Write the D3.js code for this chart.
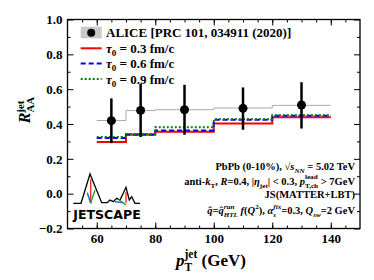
<!DOCTYPE html>
<html>
<head>
<meta charset="utf-8">
<script src="https://cdn.jsdelivr.net/npm/d3@7"></script>
<style>
  body { margin: 0; background: #fff; }
  svg text { font-family: "Liberation Serif", serif; font-weight: bold; }
</style>
</head>
<body>
<svg id="chart" width="374" height="280"></svg>
<script>
// bins of the model histograms (GeV)
var binEdges = [60, 70, 80, 100, 120, 140];
var grayStep = [0.42, 0.477, 0.482, 0.492, 0.507];
var tau03 = [0.296, 0.338, 0.355, 0.403, 0.439];
var tau06 = [0.319, 0.340, 0.363, 0.424, 0.447];
var tau09 = [0.325, 0.342, 0.382, 0.427, 0.450];

// ALICE points
var aliceX = [65, 75, 90, 110, 130];
var aliceY = [0.419, 0.478, 0.482, 0.49, 0.509];
var aliceLo = [0.29, 0.325, 0.338, 0.367, 0.374];
var aliceHi = [0.547, 0.63, 0.625, 0.61, 0.64];

var xTicks = [60, 80, 100, 120, 140];
var yTicks = [-0.2, 0, 0.2, 0.4, 0.6, 0.8, 1.0];

var legendLabels = ["ALICE [PRC 101, 034911 (2020)]", "0.3", "0.6", "0.9"];

var svg = d3.select("#chart");
var L = 67.5, R = 360, T = 19.5, B = 228.5;

var x = d3.scaleLinear().domain([50, 150]).range([L, R]);
var y = d3.scaleLinear().domain([-0.2, 1.0]).range([B, T]);

// axes (ticks inside)
function styleAxis(g) {
    g.attr("font-family", "Liberation Serif");
    g.selectAll(".domain").remove();
    g.selectAll("line").attr("stroke", "#000").attr("stroke-width", 1);
    g.selectAll("text").attr("font-size", 13).attr("fill", "#000");
}

svg.append("g").attr("transform", "translate(0," + B + ")")
    .call(d3.axisBottom(x).tickValues(d3.range(55, 150, 5)).tickSizeInner(-3).tickSizeOuter(0).tickFormat(""))
    .call(styleAxis);
svg.append("g").attr("transform", "translate(0," + B + ")")
    .call(d3.axisBottom(x).tickValues(xTicks).tickSizeInner(-6).tickSizeOuter(0).tickPadding(5).tickFormat(d3.format("d")))
    .call(styleAxis);
svg.append("g").attr("transform", "translate(0," + T + ")")
    .call(d3.axisTop(x).tickValues(d3.range(55, 150, 5)).tickSizeInner(-3).tickSizeOuter(0).tickFormat(""))
    .call(styleAxis);
svg.append("g").attr("transform", "translate(0," + T + ")")
    .call(d3.axisTop(x).tickValues(xTicks).tickSizeInner(-6).tickSizeOuter(0).tickFormat(""))
    .call(styleAxis);

svg.append("g").attr("transform", "translate(" + L + ",0)")
    .call(d3.axisLeft(y).tickValues(d3.range(-0.1, 1.0, 0.2)).tickSizeInner(-3).tickSizeOuter(0).tickFormat(""))
    .call(styleAxis);
svg.append("g").attr("transform", "translate(" + L + ",0)")
    .call(d3.axisLeft(y).tickValues(yTicks).tickSizeInner(-6).tickSizeOuter(0).tickPadding(5).tickFormat(d3.format(".1f")))
    .call(styleAxis);
svg.append("g").attr("transform", "translate(" + R + ",0)")
    .call(d3.axisRight(y).tickValues(d3.range(-0.1, 1.0, 0.2)).tickSizeInner(-3).tickSizeOuter(0).tickFormat(""))
    .call(styleAxis);
svg.append("g").attr("transform", "translate(" + R + ",0)")
    .call(d3.axisRight(y).tickValues(yTicks).tickSizeInner(-6).tickSizeOuter(0).tickFormat(""))
    .call(styleAxis);

svg.append("rect").attr("x", L).attr("y", T).attr("width", R - L).attr("height", B - T)
    .attr("fill", "none").attr("stroke", "#000").attr("stroke-width", 1.3);

// step histograms
var stepLine = d3.line().x(function (d) { return x(d[0]); }).y(function (d) { return y(d[1]); });
function stepPoints(vals) {
    var pts = [];
    vals.forEach(function (v, i) { pts.push([binEdges[i], v]); pts.push([binEdges[i + 1], v]); });
    return pts;
}

var series = [
    { vals: grayStep, color: "#aaaaaa", width: 1, dash: null },
    { vals: tau03, color: "#ff0000", width: 2, dash: null },
    { vals: tau06, color: "#0000ff", width: 2, dash: "5,3" },
    { vals: tau09, color: "#008000", width: 2, dash: "2,2" }
];
series.forEach(function (s) {
    svg.append("path").datum(stepPoints(s.vals))
        .attr("d", stepLine)
        .attr("fill", "none")
        .attr("stroke", s.color)
        .attr("stroke-width", s.width)
        .attr("stroke-dasharray", s.dash);
});

// ALICE data points
var pts = aliceX.map(function (d, i) { return { x: d, y: aliceY[i], lo: aliceLo[i], hi: aliceHi[i] }; });
svg.selectAll("line.err").data(pts).enter().append("line")
    .attr("class", "err")
    .attr("x1", function (d) { return x(d.x); }).attr("x2", function (d) { return x(d.x); })
    .attr("y1", function (d) { return y(d.lo); }).attr("y2", function (d) { return y(d.hi); })
    .attr("stroke", "#000").attr("stroke-width", 2.5);
svg.selectAll("circle.pt").data(pts).enter().append("circle")
    .attr("class", "pt")
    .attr("cx", function (d) { return x(d.x); }).attr("cy", function (d) { return y(d.y); })
    .attr("r", 4.5).attr("fill", "#000");

// legend
var legX0 = 80.7, legX1 = 101.7, legTx = 106;
var legY = [32.7, 48.3, 63.6, 79];
svg.append("rect").attr("x", legX0).attr("y", 26.7).attr("width", legX1 - legX0).attr("height", 11.6)
    .attr("fill", "#c8c8c8");
svg.append("circle").attr("cx", (legX0 + legX1) / 2).attr("cy", legY[0]).attr("r", 4).attr("fill", "#000");
svg.append("text").attr("x", legTx).attr("y", legY[0] + 4.5).attr("font-size", 13).text(legendLabels[0]);
series.slice(1).forEach(function (s, i) {
    svg.append("line").attr("x1", legX0).attr("x2", legX1)
        .attr("y1", legY[i + 1]).attr("y2", legY[i + 1])
        .attr("stroke", s.color).attr("stroke-width", 2).attr("stroke-dasharray", s.dash);
    var t = svg.append("text").attr("x", legTx).attr("y", legY[i + 1] + 4.5).attr("font-size", 13);
    t.append("tspan").attr("font-style", "italic").text("τ");
    t.append("tspan").attr("font-size", 9).attr("dy", 3).text("0");
    t.append("tspan").attr("dy", -3).text(" = " + legendLabels[i + 1] + " fm/c");
});

// rich text helper: segments [text, kind, stacked]
// kind: n, i, sub, sup, isub, isup; stacked = script placed over the previous one
function rich(xp, yp, size, segs, anchor) {
    var t = svg.append("text").attr("x", xp).attr("y", yp).attr("font-size", size)
        .attr("text-anchor", anchor || "start");
    var cur = 0, prev = null, spans = [];
    segs.forEach(function (s) {
        var sp = t.append("tspan").text(s[0]);
        var shift = 0;
        if (s[1] === "sub" || s[1] === "isub") { shift = size * 0.32; sp.attr("font-size", size * 0.68); }
        if (s[1] === "sup" || s[1] === "isup") { shift = -size * 0.48; sp.attr("font-size", size * 0.68); }
        if (s[1] === "i" || s[1] === "isub" || s[1] === "isup") sp.attr("font-style", "italic");
        sp.attr("dy", shift - cur);
        cur = shift;
        spans.push({ sp: sp, stacked: s[2], prev: prev });
        prev = sp;
    });
    // stacked scripts: move back over the previous script, keep the wider one
    spans.forEach(function (o) {
        if (!o.stacked) return;
        var wPrev = o.prev.node().getComputedTextLength();
        var wCur = o.sp.node().getComputedTextLength();
        o.sp.attr("dx", -wPrev);
        if (wPrev > wCur) {
            var nxt = spans[spans.indexOf(o) + 1];
            if (nxt) nxt.sp.attr("dx", wPrev - wCur);
        }
    });
    return t;
}

// annotations
rich(355, 170, 10.5, [["PbPb (0-10%), √", "n"], ["s", "i"], ["NN", "isub"], [" = 5.02 TeV", "n"]], "end");
rich(355, 184.5, 10.5, [["anti-", "n"], ["k", "i"], ["T", "sub"], [", ", "n"], ["R", "i"], ["=0.4, |", "n"],
    ["η", "i"], ["jet", "sub"], ["| < 0.3, ", "n"], ["p", "i"], ["T,ch", "sub"], ["lead", "sup", true], [" > 7GeV", "n"]], "end");
rich(355, 198, 10.5, [["JS(MATTER+LBT)", "n"]], "end");
rich(355, 214, 10.5, [["q̂", "i"], ["=", "n"], ["q̂", "i"], ["HTL", "isub"], ["run", "isup", true], [" f", "i"], ["(", "n"], ["Q", "i"],
    ["2", "sup"], ["), ", "n"], ["α", "i"], ["s", "isub"], ["fix", "isup", true], ["=0.3, ", "n"], ["Q", "i"], ["sw", "isub"], ["=2 GeV", "n"]], "end");

// axis titles
rich(211, 266, 17, [["p", "i"], ["T", "sub"], ["jet", "sup", true], [" (GeV)", "n"]], "middle");
var yl = svg.append("g").attr("transform", "translate(30,110) rotate(-90)");
var ylt = yl.append("text").attr("text-anchor", "middle").attr("font-size", 16);
ylt.append("tspan").attr("font-style", "italic").text("R");
ylt.append("tspan").attr("font-size", 11).attr("dy", 4).text("AA");
ylt.append("tspan").attr("font-size", 11).attr("dx", -16).attr("dy", -10).text("jet");

// JETSCAPE logo
var logo = svg.append("g");
var wave = [[73.3, 203.3], [81, 203.3], [90, 174], [101.7, 202.7], [107.3, 202.7], [110, 200], [113.3, 201.7],
    [116.7, 198.3], [120, 200], [126, 187.3], [129.3, 200], [131.7, 196.7], [135, 203.3], [140, 203.3]];
logo.append("path").attr("d", d3.line()(wave)).attr("fill", "none").attr("stroke", "#000").attr("stroke-width", 1.3);
logo.append("path").attr("d", "M90.7,179.3L90.7,203.3M126,191.7L126,203.3").attr("stroke", "#ff2020").attr("stroke-width", 1.3);
logo.append("path").attr("d", "M87.3,192.7L90.7,203.3M115,201.7L124,202.7").attr("stroke", "#3060ff").attr("stroke-width", 1.5);
logo.append("path").attr("d", "M90.7,203.3L95,190M118.3,199.3L126,205").attr("stroke", "#20a020").attr("stroke-width", 1.3);
logo.append("text").attr("x", 73.3).attr("y", 218.5).attr("font-size", 12.5)
    .attr("textLength", 67.4).attr("lengthAdjust", "spacingAndGlyphs")
    .style("font-family", "DejaVu Sans").style("font-weight", "bold").text("JETSCAPE");
</script>
</body>
</html>
